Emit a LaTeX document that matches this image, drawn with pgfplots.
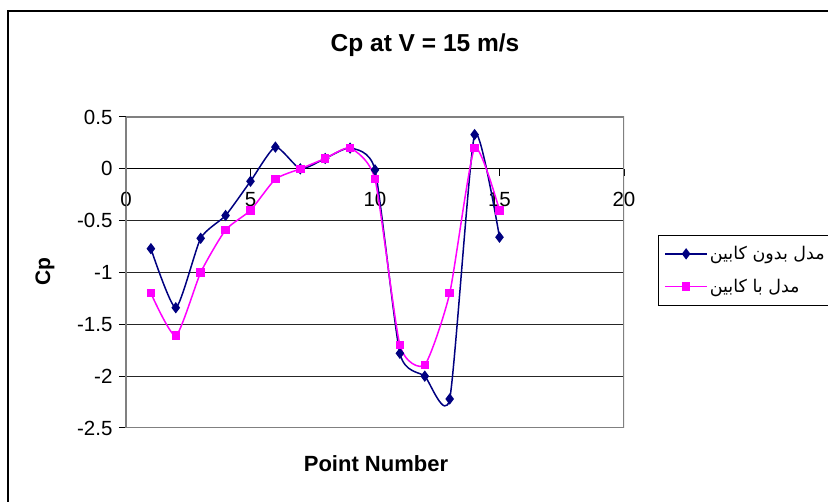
\documentclass[border=0pt]{standalone}
\usepackage{pgfplots}
\pgfplotsset{compat=1.18}
\usepackage{fontspec}
\setmainfont{Liberation Sans}
\newfontfamily\arabicfont[Script=Arabic]{DejaVu Sans}
\TeXXeTstate=1
\definecolor{navyc}{HTML}{000080}
\definecolor{pinkc}{HTML}{FF00FF}
\begin{document}
\begin{tikzpicture}
\useasboundingbox (0pt,0pt) rectangle (828pt,502pt);
\clip (0pt,0pt) rectangle (828pt,502pt);
\draw[line width=2pt] (8pt,-20pt) -- (8pt,491pt) -- (860pt,491pt);
\begin{axis}[
  at={(126pt,74pt)}, anchor=south west,
  scale only axis, width=498pt, height=311pt,
  xmin=0, xmax=20, ymin=-2.5, ymax=0.5,
  axis x line*=middle, axis y line*=left,
  axis line style={-, line width=1pt},
  x axis line style={black},
  y axis line style={gray},
  hide obscured x ticks=false, hide obscured y ticks=false,
  xtick={0,5,10,15,20}, ytick={-2.5,-2,-1.5,-1,-0.5,0,0.5},
  tick align=outside, major tick length=7pt,
  tick style={black, line width=1pt},
  ymajorgrids, grid style={black!85, line width=1pt},
  /pgf/number format/assume math mode=true,
  ticklabel style={font=\fontsize{20.5}{25}\selectfont},
  xticklabel style={yshift=-13pt},
  yticklabel style={xshift=-3pt},
  every axis title/.style={at={(axis description cs:0.6004,1.2315)}, anchor=center, font=\bfseries\fontsize{24.5}{28}\selectfont},
  title={Cp at V = 15 m/s},
  every axis x label/.style={at={(axis description cs:0.502,-0.1158)}, anchor=center, font=\bfseries\fontsize{22}{26}\selectfont},
  xlabel={Point Number},
  every axis y label/.style={at={(axis description cs:-0.1627,0.5016)}, anchor=center, rotate=90, font=\bfseries\fontsize{21}{25}\selectfont},
  ylabel={Cp},
  legend style={at={(axis description cs:1.068,0.6206)}, anchor=north west,
    draw=black, line width=1pt, font=\arabicfont\fontsize{17.5}{21}\selectfont,
    row sep=14pt, inner xsep=6pt, inner ysep=9pt, legend cell align=left},
  legend image code/.code={\draw[mark repeat=2,mark phase=2,#1] plot coordinates {(0pt,0pt) (21pt,0pt) (42pt,0pt)};},
]
\addplot[navyc, line width=1.5pt, smooth, tension=0.35, mark=diamond*, mark size=4.5pt, mark options={solid, fill=navyc}] coordinates {
(1,-0.77) (2,-1.34) (3,-0.67) (4,-0.45) (5,-0.12) (6,0.21) (7,0) (8,0.1) (9,0.2) (10,-0.01) (11,-1.78) (12,-2.0) (13,-2.22) (14,0.33) (15,-0.66)};
\addlegendentry{\beginR مدل بدون کابین\endR}
\addplot[pinkc, line width=1.5pt, smooth, tension=0.35, mark=square*, mark size=3.5pt, mark options={solid, fill=pinkc}] coordinates {
(1,-1.2) (2,-1.61) (3,-1.0) (4,-0.59) (5,-0.4) (6,-0.1) (7,0) (8,0.1) (9,0.2) (10,-0.1) (11,-1.7) (12,-1.89) (13,-1.2) (14,0.2) (15,-0.4)};
\addlegendentry{\beginR مدل با کابین\endR}
\draw[gray, line width=2pt] (rel axis cs:0,0) rectangle (rel axis cs:1,1);
\end{axis}
\end{tikzpicture}
\end{document}
